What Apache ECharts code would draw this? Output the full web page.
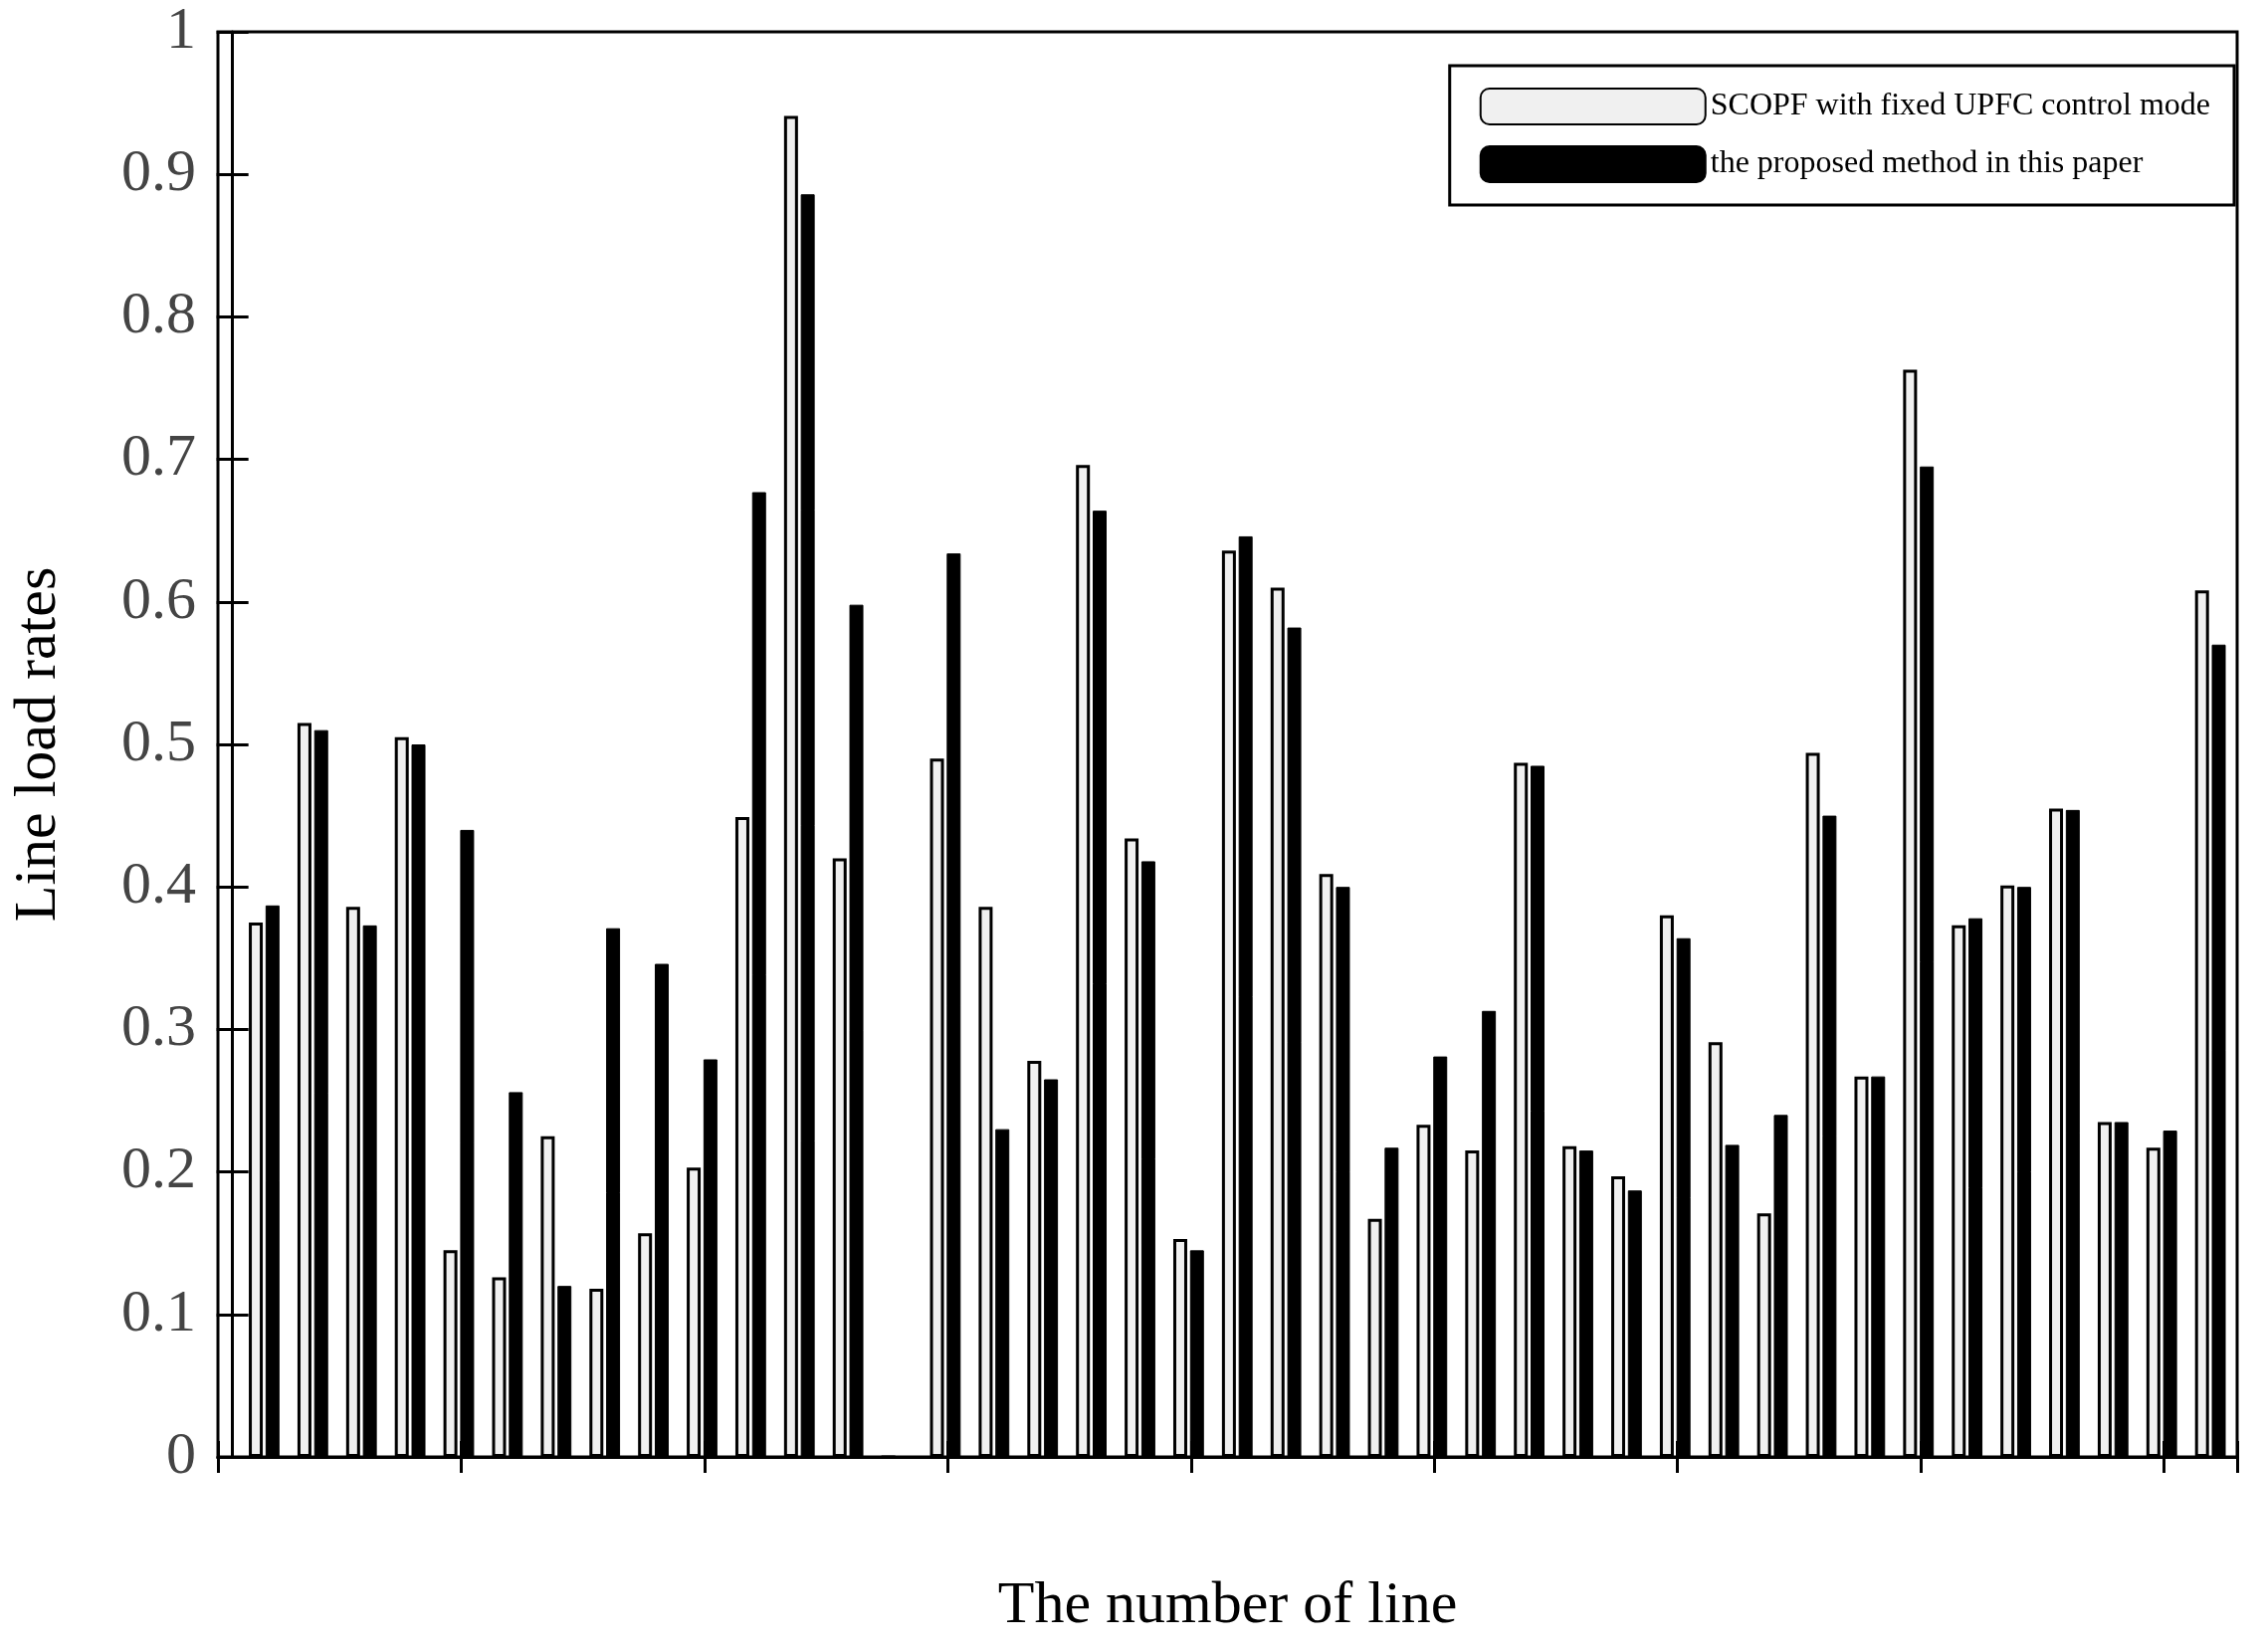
<!DOCTYPE html>
<html><head><meta charset="utf-8">
<script src="https://cdn.jsdelivr.net/npm/echarts@6/dist/echarts.min.js"></script>
<style>html,body{margin:0;padding:0;background:#fff}#c{width:2277px;height:1660px}</style>
</head><body><div id="c"></div>
<script>
// 线路编号位置（横轴）
var linePos = [];
for (var i = 0; i < 41; i++) linePos.push(i + 0.65);
// 固定UPFC控制模式
var fixedMode = [0.375,0.515,0.386,0.505,0.145,0.126,0.225,0.118,0.157,0.203,0.449,0.941,0.42,0,0.49,0.386,0.278,0.696,0.434,0.153,0.636,0.61,0.409,0.167,0.233,0.215,0.487,0.218,0.197,0.38,0.291,0.171,0.494,0.267,0.763,0.373,0.401,0.455,0.235,0.217,0.608];
// 本文方法
var proposed = [0.387,0.51,0.373,0.5,0.44,0.256,0.12,0.371,0.346,0.279,0.677,0.886,0.598,0,0.634,0.23,0.265,0.664,0.418,0.145,0.646,0.582,0.4,0.217,0.281,0.313,0.485,0.215,0.187,0.364,0.219,0.24,0.45,0.267,0.695,0.378,0.4,0.454,0.235,0.229,0.57];

function pairs(v) { return v.map(function (y, i) { return [linePos[i], y]; }); }

var font = 'Liberation Serif, DejaVu Serif, serif';
var chart = echarts.init(document.getElementById('c'));
chart.setOption({
    animation: false,
    textStyle: {fontFamily: font},
    grid: {left: 219, right: 29, top: 32, bottom: 196, show: true, borderColor: '#000', borderWidth: 3},
    legend: {
        orient: 'vertical', right: 32, top: 66,
        itemWidth: 226, itemHeight: 36, itemGap: 20,
        padding: [22, 24, 22, 30],
        borderColor: '#000', borderWidth: 3, backgroundColor: '#fff',
        textStyle: {fontSize: 32, color: '#000', fontFamily: font},
        data: ['SCOPF with fixed UPFC control mode', 'the proposed method in this paper']
    },
    xAxis: [{
        type: 'value', min: -0.3, max: 41.2, interval: 5,
        name: 'The number of line', nameLocation: 'middle', nameGap: 120,
        nameTextStyle: {fontSize: 60, color: '#000'},
        axisLine: {lineStyle: {color: '#000', width: 3}},
        axisTick: {inside: true, length: 16, lineStyle: {color: '#000', width: 3}},
        axisLabel: {fontSize: 60, color: '#444', margin: 20,
            formatter: function (v) { return (v % 5 === 0 && v >= 0) ? v : ''; }},
        splitLine: {show: false}
    }, {
        type: 'value', position: 'top', min: -0.3, max: 41.2, interval: 5,
        axisLine: {show: false}, axisLabel: {show: false}, splitLine: {show: false},
        axisTick: {inside: true, length: 16, lineStyle: {color: '#000', width: 3}}
    }],
    yAxis: [{
        type: 'value', min: 0, max: 1, interval: 0.1,
        name: 'Line load rates', nameLocation: 'middle', nameGap: 150,
        nameTextStyle: {fontSize: 60, color: '#000'},
        axisLine: {show: true, lineStyle: {color: '#000', width: 3}},
        axisTick: {inside: true, length: 16, lineStyle: {color: '#000', width: 3}},
        axisLabel: {fontSize: 60, color: '#444', margin: 22,
            formatter: function (v) { return +v.toFixed(1); }},
        splitLine: {show: false}
    }, {
        type: 'value', position: 'right', min: 0, max: 1, interval: 0.1,
        axisLine: {show: false}, axisLabel: {show: false}, splitLine: {show: false},
        axisTick: {inside: true, length: 16, lineStyle: {color: '#000', width: 3}}
    }],
    series: [{
        name: 'SCOPF with fixed UPFC control mode', type: 'bar',
        barWidth: 14, barGap: '20%',
        itemStyle: {color: '#f0f0f0', borderColor: '#000', borderWidth: 3},
        data: pairs(fixedMode)
    }, {
        name: 'the proposed method in this paper', type: 'bar',
        barWidth: 14, barGap: '20%',
        itemStyle: {color: '#000', borderColor: '#000', borderWidth: 1},
        data: pairs(proposed)
    }]
});
</script></body></html>
